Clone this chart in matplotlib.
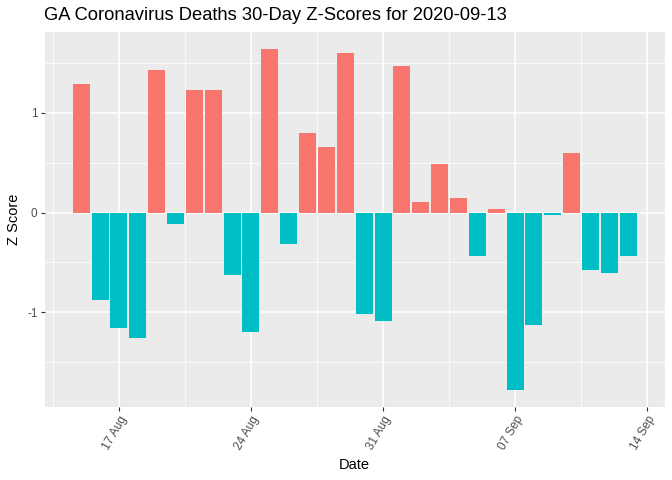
import matplotlib
matplotlib.use("Agg")
import matplotlib.pyplot as plt
import matplotlib.dates as mdates
import numpy as np
import pandas as pd

dates = pd.date_range("2020-08-15", "2020-09-13", freq="D")
zscores = [1.29, -0.88, -1.16, -1.26, 1.43, -0.12, 1.23, 1.23, -0.63, -1.20,
           1.64, -0.32, 0.80, 0.66, 1.60, -1.02, -1.09, 1.47, 0.11, 0.49,
           0.15, -0.44, 0.04, -1.78, -1.13, -0.02, 0.60, -0.58, -0.61, -0.44]
tick_dates = pd.to_datetime(["2020-08-17", "2020-08-24", "2020-08-31", "2020-09-07", "2020-09-14"])
tick_labels = ["17 Aug", "24 Aug", "31 Aug", "07 Sep", "14 Sep"]
title = "GA Coronavirus Deaths 30-Day Z-Scores for 2020-09-13"

RED = "#F8766D"
TEAL = "#00BFC4"

plt.rcParams['font.family'] = ['Liberation Sans', 'DejaVu Sans']

fig = plt.figure(figsize=(6.72, 4.8), dpi=100)
ax = fig.add_axes([44.5/672, 1-407/480, (665-44.5)/672, (407-32)/480])
ax.set_facecolor("#EBEBEB")

x = mdates.date2num(dates)
z = np.array(zscores)
colors = [RED if v > 0 else TEAL for v in z]
ax.bar(x, z, width=0.9, color=colors, zorder=3)

tx = mdates.date2num(tick_dates)
ax.set_xticks(tx)
ax.set_xticklabels(tick_labels, rotation=60, ha='right', va='top', rotation_mode='anchor')
minor_x = np.concatenate([[tx[0] - 3.5], tx + 3.5])
ax.set_xticks(minor_x, minor=True)
ax.set_yticks([-1, 0, 1])
ax.set_yticklabels(["-1", "0", "1"])
ax.set_yticks([-1.5, -0.5, 0.5, 1.5], minor=True)

xmin, xmax = x[0] - 0.45, x[-1] + 0.45
pad = 0.05 * (xmax - xmin)
ax.set_xlim(xmin - pad, xmax + pad)
ymin, ymax = min(z.min(), 0), max(z.max(), 0)
ypad = 0.05 * (ymax - ymin)
ax.set_ylim(ymin - ypad, ymax + ypad)

ax.grid(which='major', color='white', linewidth=1.1, zorder=0)
ax.grid(which='minor', color='white', linewidth=0.55, zorder=0)
ax.set_axisbelow(True)
for s in ax.spines.values():
    s.set_visible(False)
ax.tick_params(which='major', length=3, width=0.8, color='#333333', labelcolor='#4D4D4D', labelsize=8.5, pad=2)
ax.tick_params(which='minor', length=0)

ax.set_xlabel("Date", fontsize=10.5, color='black', labelpad=4)
ax.set_ylabel("Z Score", fontsize=10.5, color='black', labelpad=4)
fig.text(44/672, 1-16/480, title, fontsize=13.2, ha='left', va='center', color='black')

fig.savefig("out.png", dpi=100)
